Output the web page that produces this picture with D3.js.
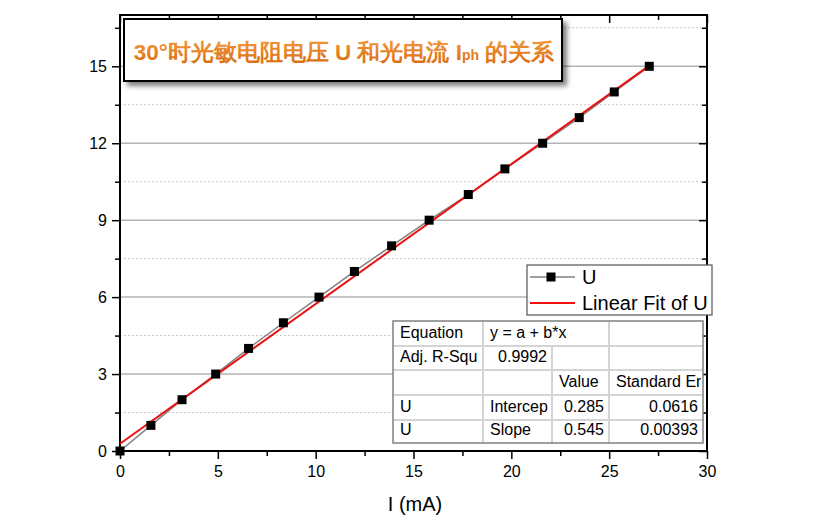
<!DOCTYPE html>
<html>
<head>
<meta charset="utf-8">
<script src="https://cdn.jsdelivr.net/npm/d3@7"></script>
<style>
  html, body { margin: 0; padding: 0; background: #fff; }
  svg { display: block; }
  text { font-family: "Liberation Sans", Arial, sans-serif; }
</style>
</head>
<body>
<svg id="chart" width="818" height="522"></svg>
<script>
// --- Data ---

const currentI = [0, 1.58, 3.17, 4.89, 6.57, 8.35, 10.17, 11.98, 13.88, 15.8, 17.8, 19.67, 21.6, 23.47, 25.26, 27.05];
const voltageU = [0, 1, 2, 3, 4, 5, 6, 7, 8, 9, 10, 11, 12, 13, 14, 15];

const fitIntercept = 0.285;
const fitSlope = 0.545;

const xMajorTicks = [0, 5, 10, 15, 20, 25, 30];
const xMinorTicks = [2.5, 7.5, 12.5, 17.5, 22.5, 27.5];
const yMajorTicks = [0, 3, 6, 9, 12, 15];
const yMinorTicks = [1.5, 4.5, 7.5, 10.5, 13.5, 16.5];

const tableRows = [
  ["Equation", "y = a + b*x", "", ""],
  ["Adj. R-Squ", "0.9992", "", ""],
  ["", "", "Value", "Standard Er"],
  ["U", "Intercep", "0.285", "0.0616"],
  ["U", "Slope", "0.545", "0.00393"],
];

// --- Layout ---

const margin = { left: 120, top: 15, right: 111, bottom: 71 };
const W = 818, H = 522;
const innerW = W - margin.left - margin.right;
const innerH = H - margin.top - margin.bottom;

const svg = d3.select("#chart");
const defs = svg.append("defs");

const x = d3.scaleLinear().domain([0, 30]).range([margin.left, margin.left + innerW]);
const y = d3.scaleLinear().domain([0, 17]).range([margin.top + innerH, margin.top]);

// --- Grid ---

const grid = svg.append("g");
grid.selectAll("line.minor")
  .data(yMinorTicks)
  .join("line")
  .attr("x1", x(0)).attr("x2", x(30))
  .attr("y1", (d) => y(d)).attr("y2", (d) => y(d))
  .attr("stroke", "#c8c8c8")
  .attr("stroke-width", 1)
  .attr("stroke-dasharray", "2,2");
grid.selectAll("line.major")
  .data(yMajorTicks.filter((d) => d > 0))
  .join("line")
  .attr("x1", x(0)).attr("x2", x(30))
  .attr("y1", (d) => y(d)).attr("y2", (d) => y(d))
  .attr("stroke", "#b4b4b4")
  .attr("stroke-width", 1.5);

// --- Axes ---

const axisFont = (g) => g.selectAll("text").attr("font-size", 16).attr("fill", "#000")
  .attr("font-family", '"Liberation Sans", Arial, sans-serif');
const axisStroke = (g) => {
  g.select(".domain").remove();
  g.selectAll(".tick line").attr("stroke", "#000").attr("stroke-width", 1.5);
};

// bottom
svg.append("g")
  .attr("transform", `translate(0,${y(0)})`)
  .call(d3.axisBottom(x).tickValues(xMajorTicks).tickFormat(d3.format("d")).tickSize(8).tickPadding(7))
  .call(axisStroke).call(axisFont);
svg.append("g")
  .attr("transform", `translate(0,${y(0)})`)
  .call(d3.axisBottom(x).tickValues(xMinorTicks).tickFormat("").tickSize(5))
  .call(axisStroke);

// top (inward)
svg.append("g")
  .attr("transform", `translate(0,${y(17)})`)
  .call(d3.axisBottom(x).tickValues(xMajorTicks).tickFormat("").tickSize(8))
  .call(axisStroke);
svg.append("g")
  .attr("transform", `translate(0,${y(17)})`)
  .call(d3.axisBottom(x).tickValues(xMinorTicks).tickFormat("").tickSize(5))
  .call(axisStroke);

// left
svg.append("g")
  .attr("transform", `translate(${x(0)},0)`)
  .call(d3.axisLeft(y).tickValues(yMajorTicks).tickFormat(d3.format("d")).tickSize(8).tickPadding(5))
  .call(axisStroke).call(axisFont);
svg.append("g")
  .attr("transform", `translate(${x(0)},0)`)
  .call(d3.axisLeft(y).tickValues(yMinorTicks).tickFormat("").tickSize(5))
  .call(axisStroke);

// right (inward)
svg.append("g")
  .attr("transform", `translate(${x(30)},0)`)
  .call(d3.axisLeft(y).tickValues(yMajorTicks).tickFormat("").tickSize(8))
  .call(axisStroke);
svg.append("g")
  .attr("transform", `translate(${x(30)},0)`)
  .call(d3.axisLeft(y).tickValues(yMinorTicks).tickFormat("").tickSize(5))
  .call(axisStroke);

// frame
svg.append("rect")
  .attr("x", x(0)).attr("y", y(17))
  .attr("width", x(30) - x(0)).attr("height", y(0) - y(17))
  .attr("fill", "none")
  .attr("stroke", "#000")
  .attr("stroke-width", 2);

// x label
svg.append("text")
  .attr("x", 415).attr("y", 511)
  .attr("text-anchor", "middle")
  .attr("font-size", 20)
  .text("I (mA)");

// --- Series ---

const points = currentI.map((d, i) => ({ I: d, U: voltageU[i] }));

svg.append("path")
  .datum(points)
  .attr("fill", "none")
  .attr("stroke", "#808080")
  .attr("stroke-width", 1.5)
  .attr("d", d3.line().x((d) => x(d.I)).y((d) => y(d.U)));

const fitEnd = d3.max(currentI);
svg.append("path")
  .datum([0, fitEnd])
  .attr("fill", "none")
  .attr("stroke", "#ee1111")
  .attr("stroke-width", 2)
  .attr("d", d3.line().x((d) => x(d)).y((d) => y(fitIntercept + fitSlope * d)));

const sq = 9;
svg.append("g")
  .selectAll("rect")
  .data(points)
  .join("rect")
  .attr("x", (d) => x(d.I) - sq / 2)
  .attr("y", (d) => y(d.U) - sq / 2)
  .attr("width", sq)
  .attr("height", sq)
  .attr("fill", "#000");

// --- Title box ---

const shadow = defs.append("filter").attr("id", "shadow")
  .attr("x", "-10%").attr("y", "-20%").attr("width", "130%").attr("height", "160%");
shadow.append("feGaussianBlur").attr("in", "SourceAlpha").attr("stdDeviation", 2.5);
shadow.append("feOffset").attr("dx", 4).attr("dy", 4).attr("result", "blur");
shadow.append("feComponentTransfer").append("feFuncA").attr("type", "linear").attr("slope", 0.5);
const merge = shadow.append("feMerge");
merge.append("feMergeNode");
merge.append("feMergeNode").attr("in", "SourceGraphic");

const grad = defs.append("linearGradient").attr("id", "titleGrad")
  .attr("x1", 0).attr("y1", 0).attr("x2", 0).attr("y2", 1);
grad.append("stop").attr("offset", "0%").attr("stop-color", "#f29a3c");
grad.append("stop").attr("offset", "100%").attr("stop-color", "#d96a0e");

svg.append("rect")
  .attr("x", 124).attr("y", 19)
  .attr("width", 438).attr("height", 62)
  .attr("fill", "#fff")
  .attr("stroke", "#000")
  .attr("stroke-width", 2)
  .attr("filter", "url(#shadow)");

const title = svg.append("text")
  .attr("x", 344).attr("y", 60)
  .attr("text-anchor", "middle")
  .attr("font-family", '"Noto Sans CJK SC", sans-serif')
  .attr("font-weight", "bold")
  .attr("font-size", 22.5)
  .attr("fill", "url(#titleGrad)");
title.append("tspan").text("30°时光敏电阻电压 U 和光电流 I");
title.append("tspan").attr("font-size", 14).text("ph");
title.append("tspan").text(" 的关系");

// --- Legend ---

const legend = svg.append("g");
legend.append("rect")
  .attr("x", 527).attr("y", 265)
  .attr("width", 185).attr("height", 50)
  .attr("fill", "#fff")
  .attr("stroke", "#555")
  .attr("stroke-width", 1.2);
legend.append("line")
  .attr("x1", 530).attr("x2", 575).attr("y1", 277).attr("y2", 277)
  .attr("stroke", "#808080").attr("stroke-width", 1.5);
legend.append("rect")
  .attr("x", 551 - 4.5).attr("y", 277 - 4.5).attr("width", 9).attr("height", 9)
  .attr("fill", "#000");
legend.append("line")
  .attr("x1", 530).attr("x2", 575).attr("y1", 303).attr("y2", 303)
  .attr("stroke", "#ee1111").attr("stroke-width", 2);
legend.append("text").attr("x", 582).attr("y", 284).attr("font-size", 20).text("U");
legend.append("text").attr("x", 582).attr("y", 310).attr("font-size", 20).text("Linear Fit of U");

// --- Fit table ---

const colEdges = [393, 483, 552, 609, 703];
const rowEdges = [321, 346, 370, 395, 420, 443];
const table = svg.append("g");

table.append("rect")
  .attr("x", colEdges[0]).attr("y", rowEdges[0])
  .attr("width", colEdges[4] - colEdges[0]).attr("height", rowEdges[5] - rowEdges[0])
  .attr("fill", "#fff");

// inner horizontal lines
table.selectAll("line.h")
  .data(rowEdges.slice(1, -1))
  .join("line")
  .attr("x1", colEdges[0]).attr("x2", colEdges[4])
  .attr("y1", (d) => d).attr("y2", (d) => d)
  .attr("stroke", "#d4d4d4").attr("stroke-width", 2);

// inner vertical lines (col 2 line skipped on first row)
colEdges.slice(1, -1).forEach((cx, ci) => {
  const top = ci === 1 ? rowEdges[1] : rowEdges[0];
  table.append("line")
    .attr("x1", cx).attr("x2", cx)
    .attr("y1", top).attr("y2", rowEdges[5])
    .attr("stroke", "#d4d4d4").attr("stroke-width", 2);
});

table.append("rect")
  .attr("x", colEdges[0]).attr("y", rowEdges[0])
  .attr("width", colEdges[4] - colEdges[0]).attr("height", rowEdges[5] - rowEdges[0])
  .attr("fill", "none")
  .attr("stroke", "#808080").attr("stroke-width", 1.5);

defs.append("clipPath").attr("id", "tableClip")
  .append("rect")
  .attr("x", colEdges[0]).attr("y", rowEdges[0])
  .attr("width", colEdges[4] - colEdges[0] - 2).attr("height", rowEdges[5] - rowEdges[0]);

const tableText = table.append("g").attr("clip-path", "url(#tableClip)").attr("font-size", 16);
const rightAligned = (ri, ci) => (ri === 1 && ci === 1) || (ri >= 3 && ci >= 2);
tableRows.forEach((row, ri) => {
  const baseline = rowEdges[ri + 1] - 8;
  row.forEach((cell, ci) => {
    if (!cell) return;
    const right = rightAligned(ri, ci);
    tableText.append("text")
      .attr("x", right ? colEdges[ci + 1] - 5 : colEdges[ci] + 7)
      .attr("y", baseline)
      .attr("text-anchor", right ? "end" : "start")
      .text(cell);
  });
});
</script>
</body>
</html>
